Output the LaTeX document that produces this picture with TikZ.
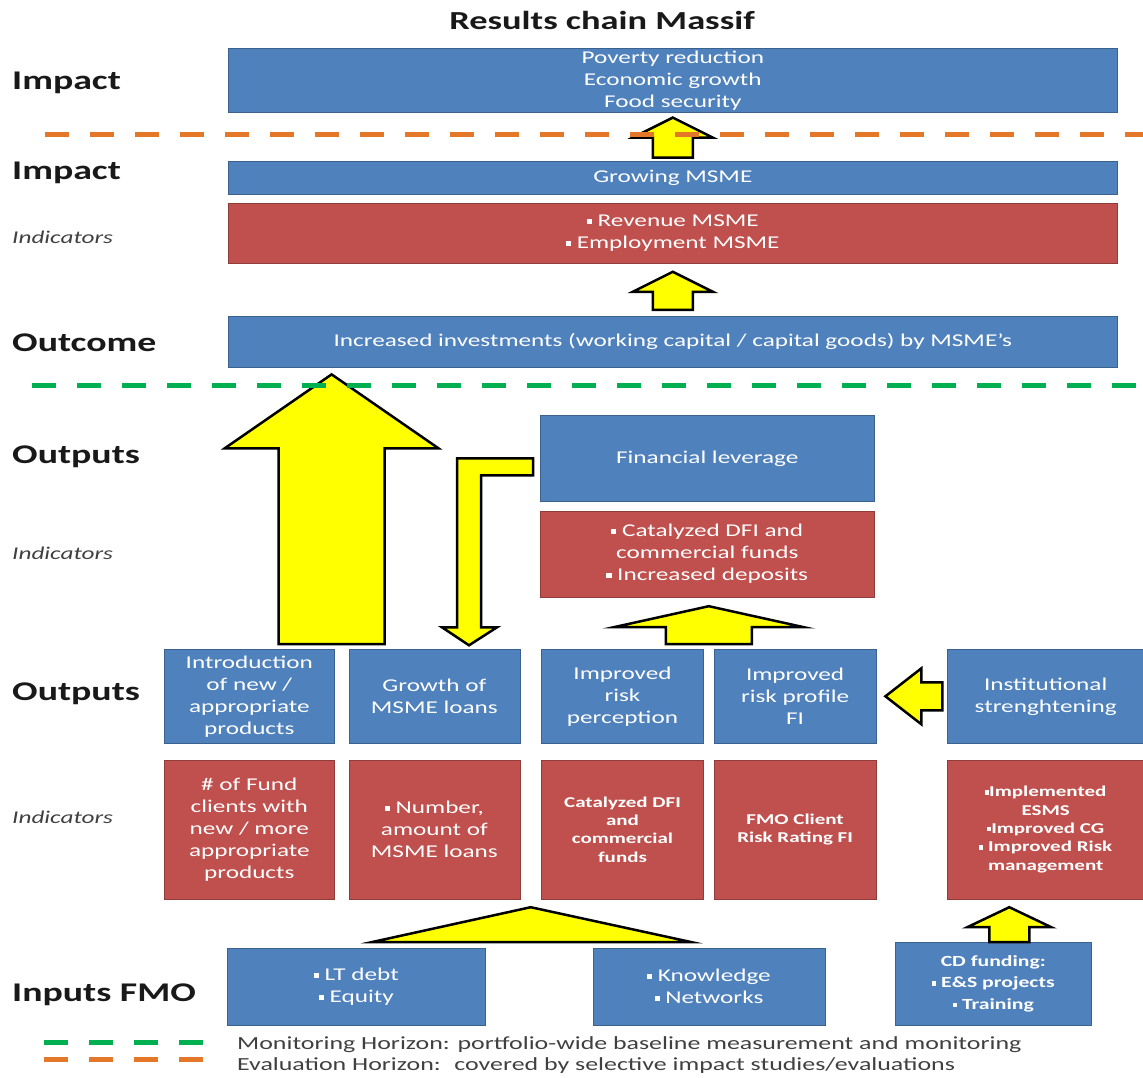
\documentclass[tikz,border=0pt]{standalone}
\usepackage{fontspec}
\setmainfont{Carlito}[FakeStretch=1.4]
\usepackage{tikz}
\usetikzlibrary{positioning, calc}
\definecolor{boxblue}{RGB}{79, 129, 189}
\definecolor{boxred}{RGB}{192, 80, 77}
\definecolor{arrowyellow}{RGB}{255, 255, 0}
\definecolor{evalorange}{RGB}{228, 120, 40}
\definecolor{mongreen}{RGB}{0, 176, 80}

% small square bullet
\newcommand{\sqbullet}{\raisebox{0.3ex}{\rule{0.28em}{0.28em}}}
% upward block arrow: base, tip, shaft half width, head half width, head length
\newcommand{\fatup}[5]{%
  \draw[fatarrow] let \p1=#1, \p2=#2 in
    (\x1-#3pt,\y1) -- (\x1-#3pt,\y2-#5pt) -- (\x1-#4pt,\y2-#5pt) -- (\x1,\y2)
    -- (\x1+#4pt,\y2-#5pt) -- (\x1+#3pt,\y2-#5pt) -- (\x1+#3pt,\y1) -- cycle;}

\begin{document}
\begin{tikzpicture}[x=1pt, y=-1pt,
    bluebox/.style={rectangle, draw=boxblue!75!black, fill=boxblue, line width=0.6pt, text=white, align=center, inner sep=0pt, font=\fontsize{18}{22}\selectfont},
    redbox/.style={bluebox, draw=boxred!75!black, fill=boxred},
    smalltext/.style={font=\fontsize{15}{18.3}\selectfont\bfseries},
    rowlabel/.style={anchor=west, inner sep=0pt, font=\fontsize{27}{30}\selectfont\bfseries, text=black!90},
    indlabel/.style={anchor=west, inner sep=0pt, font=\fontsize{18}{20}\selectfont\itshape, text=black!75},
    legtext/.style={anchor=west, inner sep=0pt, font=\fontsize{18.5}{21}\selectfont, text=black!75},
    fatarrow/.style={draw=black, line width=2.5pt, fill=arrowyellow, line join=miter},
    horizon/.style={line width=5pt, dash pattern=on 24pt off 21pt}]

    \useasboundingbox (0,0) rectangle (1143,1078);

    % Title
    \node[font=\fontsize{26}{30}\selectfont\bfseries, text=black!90] (title) at (602,20) {Results chain Massif};

    % Impact and outcome column
    \node[bluebox, anchor=north west, minimum width=889pt, minimum height=64pt] (poverty) at (228,48) {Poverty reduction\\Economic growth\\Food security};
    \node[bluebox, below=48pt of poverty, minimum width=889pt, minimum height=33pt] (growing) {Growing MSME};
    \node[redbox, below=9pt of growing, minimum width=889pt, minimum height=60pt] (revenue) {\sqbullet\ Revenue MSME\\\sqbullet\ Employment MSME};
    \node[bluebox, below=52pt of revenue, minimum width=889pt, minimum height=51pt] (outcome) {Increased investments (working capital / capital goods) by MSME’s};

    % Financial leverage
    \node[bluebox, anchor=north west, minimum width=334pt, minimum height=86pt] (finlev) at (540,415) {Financial leverage};
    \node[redbox, below=9pt of finlev, minimum width=334pt, minimum height=86pt] (catalyzed) {\sqbullet\ Catalyzed DFI and\\commercial funds\\\sqbullet\ Increased deposits};

    % Outputs row
    \node[bluebox, anchor=north west, minimum width=170pt, minimum height=94pt] (intro) at (164,649) {Introduction\\of new /\\appropriate\\products};
    \node[bluebox, right=14pt of intro, minimum width=171pt, minimum height=94pt] (growth) {Growth of\\MSME loans};
    \node[bluebox, right=21pt of growth, minimum width=162pt, minimum height=94pt] (riskperc) {Improved\\risk\\perception};
    \node[bluebox, right=10pt of riskperc, minimum width=162pt, minimum height=94pt] (riskprof) {Improved\\risk profile\\FI};
    \node[bluebox, right=71pt of riskprof, minimum width=196pt, minimum height=94pt] (inst) {Institutional\\strenghtening};

    % Output indicators
    \node[redbox, below=16pt of intro, minimum width=170pt, minimum height=139pt] (introind) {\# of Fund\\clients with\\new / more\\appropriate\\products};
    \node[redbox, below=16pt of growth, minimum width=171pt, minimum height=139pt] (growthind) {\sqbullet\ Number,\\amount of\\MSME loans};
    \node[redbox, smalltext, below=16pt of riskperc, minimum width=162pt, minimum height=139pt] (percind) {Catalyzed DFI\\and\\commercial\\funds};
    \node[redbox, smalltext, below=16pt of riskprof, minimum width=162pt, minimum height=139pt] (profind) {FMO Client\\Risk Rating FI};
    \node[redbox, smalltext, below=16pt of inst, minimum width=196pt, minimum height=139pt] (instind) {\sqbullet Implemented\\ESMS\\\sqbullet Improved CG\\\sqbullet\ Improved Risk\\management};

    % Inputs
    \node[bluebox, anchor=north west, minimum width=258pt, minimum height=77pt] (ltdebt) at (227,948) {\sqbullet\ LT debt\\\sqbullet\ Equity};
    \node[bluebox, right=107pt of ltdebt, minimum width=232pt, minimum height=77pt] (know) {\sqbullet\ Knowledge\\\sqbullet\ Networks};
    \node[bluebox, anchor=north west, minimum width=196pt, minimum height=83pt, font=\fontsize{15.5}{21.6}\selectfont\bfseries] (cdfund) at (895,942) {CD funding:\\\sqbullet\ E\&S projects\\\sqbullet\ Training};

    % Row labels
    \node[rowlabel] (lblimpact) at (12,83) {Impact};
    \node[rowlabel] (lblimpacttwo) at (12,173) {Impact};
    \node[indlabel] (lblindone) at (12,237) {Indicators};
    \node[rowlabel] (lbloutcome) at (12,343) {Outcome};
    \node[rowlabel] (lbloutputs) at (12,457) {Outputs};
    \node[indlabel] (lblindtwo) at (12,553) {Indicators};
    \node[rowlabel] (lbloutputstwo) at (12,694) {Outputs};
    \node[indlabel] (lblindthree) at (12,817) {Indicators};
    \node[rowlabel] (lblinputs) at (12,995) {Inputs FMO};

    % Block arrows
    \fatup{([yshift=3pt]growing.north)}{([yshift=-5pt]poverty.south)}{20}{40}{20}
    \fatup{([yshift=6pt]outcome.north)}{([yshift=-8pt]revenue.south)}{20}{40}{20}
    \fatup{([shift={(-3pt,5pt)}]intro.north east)}{([yshift=-7pt]outcome.south)}{53}{107}{74}
    \fatup{($(riskperc.north east)!.5!(riskprof.north west)+(0pt,5pt)$)}{([yshift=-9pt]catalyzed.south)}{43}{95}{21}
    \fatup{([xshift=16pt]cdfund.north)}{([yshift=-8pt]instind.south)}{20}{42}{20}
    \draw[fatarrow] ([xshift=-7pt]finlev.west) -- ++(-76,0) -- ++(0,169) -- ++(-15,0) -- ++(27,18)
        -- ++(28,-18) -- ++(-16,0) -- ++(0,-152) -- ++(52,0) -- cycle;
    \draw[fatarrow] let \p1=(inst.west) in (\x1-5pt,\y1+14pt) -- (\x1-26pt,\y1+14pt) -- (\x1-26pt,\y1+28pt)
        -- (\x1-62pt,\y1) -- (\x1-26pt,\y1-28pt) -- (\x1-26pt,\y1-14pt) -- (\x1-5pt,\y1-14pt) -- cycle;
    \draw[fatarrow] ([shift={(16pt,6pt)}]ltdebt.north) -- ($(growthind.south east)!.5!(percind.south west)+(0pt,-8pt)$)
        -- ([shift={(-18pt,6pt)}]know.north) -- cycle;

    % Horizons
    \coordinate (evalL) at (45,135);
    \coordinate (evalR) at (1143,135);
    \coordinate (monL) at (32,385);
    \coordinate (monR) at (1143,385);
    \draw[horizon, evalorange] (evalL) -- (evalR);
    \draw[horizon, mongreen] (monL) -- (monR);

    % Legend
    \coordinate (mon1) at (44,1042);
    \coordinate (mon2) at (204,1042);
    \coordinate (eva1) at (44,1059);
    \coordinate (eva2) at (204,1059);
    \draw[horizon, mongreen] (mon1) -- (mon2);
    \draw[horizon, evalorange] (eva1) -- (eva2);
    \node[legtext] (montext) at (237,1045) {Monitoring Horizon: portfolio-wide baseline measurement and monitoring};
    \node[legtext] (evatext) at (237,1066) {Evaluation Horizon: \ covered by selective impact studies/evaluations};
\end{tikzpicture}
\end{document}
